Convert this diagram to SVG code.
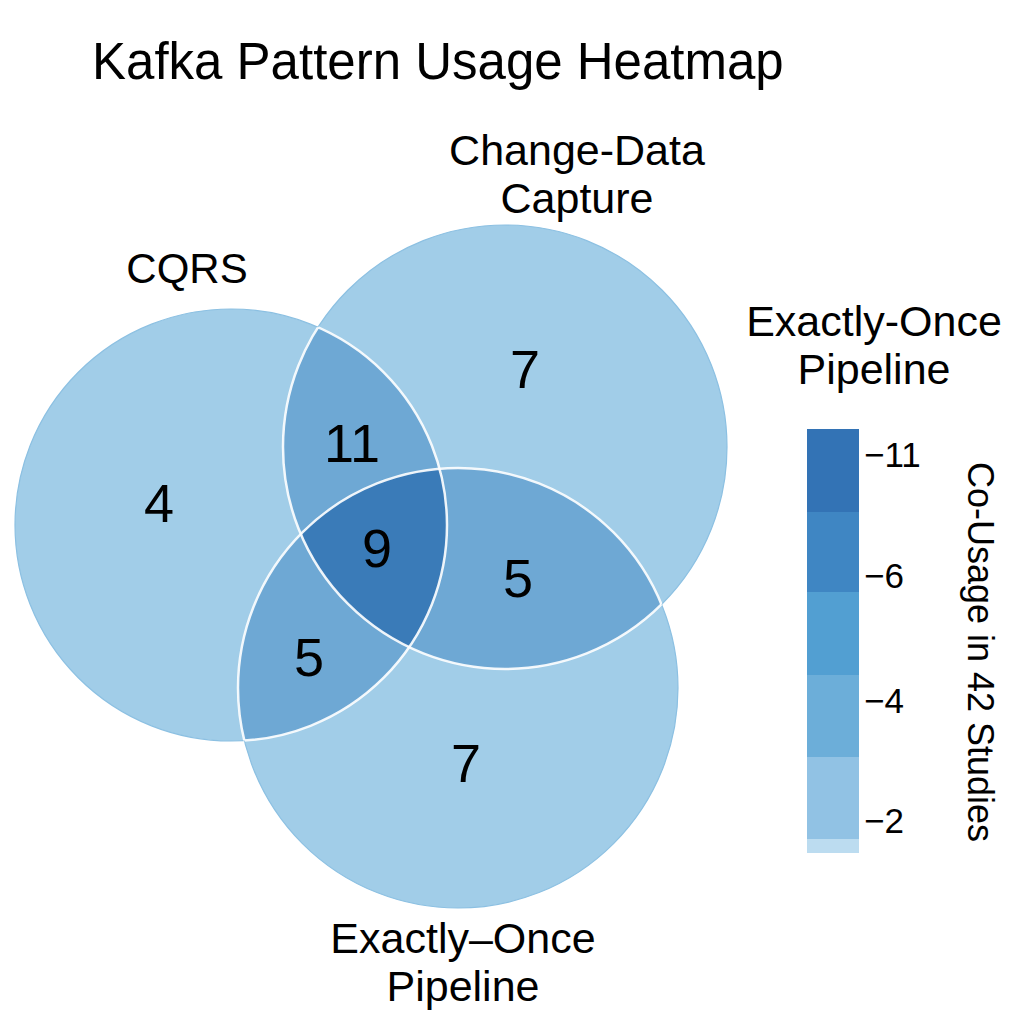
<svg xmlns="http://www.w3.org/2000/svg" width="1024" height="1024" viewBox="0 0 1024 1024">
<style>
text{font-family:"Liberation Sans",Arial,sans-serif;fill:#000}
.t{font-size:51px}
.lab{font-size:43px;text-anchor:middle}
.num{font-size:54px;text-anchor:middle}
.tick{font-size:35px}
.single{fill:#a1cde8}
.edge{fill:none;stroke:#8cc0e2;stroke-width:1.2}
.lens{fill:#6ea8d4}
.triple{fill:#3a7bb8}
.wl{fill:none;stroke:#fff;stroke-width:2.5;stroke-opacity:0.9}
</style>
<defs>
<clipPath id="cA"><circle cx="231" cy="525" r="216"/></clipPath>
<clipPath id="cB"><circle cx="505" cy="447" r="222"/></clipPath>
<clipPath id="cC"><circle cx="458" cy="688" r="220"/></clipPath>
<clipPath id="cBC"><circle cx="505" cy="447" r="222"/><circle cx="458" cy="688" r="220"/></clipPath>
<clipPath id="cAC"><circle cx="231" cy="525" r="216"/><circle cx="458" cy="688" r="220"/></clipPath>
<clipPath id="cAB"><circle cx="231" cy="525" r="216"/><circle cx="505" cy="447" r="222"/></clipPath>
</defs>
<rect width="1024" height="1024" fill="#fff"/>
<text class="t" x="92" y="79">Kafka Pattern Usage Heatmap</text>
<g id="set-cqrs">
<circle class="single" cx="231" cy="525" r="216"/>
<circle class="edge" cx="231" cy="525" r="216"/>
</g>
<g id="set-cdc">
<circle class="single" cx="505" cy="447" r="222"/>
<circle class="edge" cx="505" cy="447" r="222"/>
</g>
<g id="set-eo">
<circle class="single" cx="458" cy="688" r="220"/>
<circle class="edge" cx="458" cy="688" r="220"/>
</g>
<g id="overlaps">
<circle class="lens" cx="505" cy="447" r="222" clip-path="url(#cA)"/>
<circle class="lens" cx="458" cy="688" r="220" clip-path="url(#cA)"/>
<circle class="lens" cx="458" cy="688" r="220" clip-path="url(#cB)"/>
<g clip-path="url(#cA)"><circle class="triple" cx="458" cy="688" r="220" clip-path="url(#cB)"/></g>
</g>
<g id="outlines">
<circle class="wl" cx="231" cy="525" r="216" clip-path="url(#cBC)"/>
<circle class="wl" cx="505" cy="447" r="222" clip-path="url(#cAC)"/>
<circle class="wl" cx="458" cy="688" r="220" clip-path="url(#cAB)"/>
</g>
<g id="counts">
<text class="num" x="159" y="522">4</text>
<text class="num" x="525" y="388">7</text>
<text class="num" x="352" y="462">11</text>
<text class="num" x="377" y="567">9</text>
<text class="num" x="518" y="597">5</text>
<text class="num" x="309" y="676">5</text>
<text class="num" x="466" y="782">7</text>
</g>
<g id="labels">
<text class="lab" x="187" y="283" style="font-size:42px">CQRS</text>
<text class="lab" x="577" y="165">Change-Data<tspan x="577" y="213">Capture</tspan></text>
<text class="lab" x="874" y="336">Exactly-Once<tspan x="874" y="384">Pipeline</tspan></text>
<text class="lab" x="463" y="953">Exactly–Once<tspan x="463" y="1001">Pipeline</tspan></text>
</g>
<g id="colorbar">
<rect x="807" y="429" width="52" height="83" fill="#3373b5"/>
<rect x="807" y="512" width="52" height="80" fill="#3f86c3"/>
<rect x="807" y="592" width="52" height="83" fill="#529fd2"/>
<rect x="807" y="675" width="52" height="82" fill="#6caed9"/>
<rect x="807" y="757" width="52" height="82" fill="#91c2e4"/>
<rect x="807" y="839" width="52" height="14" fill="#bcdcf0"/>
<text class="tick" x="864" y="467">−11</text>
<text class="tick" x="864" y="588">−6</text>
<text class="tick" x="864" y="713">−4</text>
<text class="tick" x="864" y="833">−2</text>
<text transform="translate(968,652) rotate(90)" style="font-size:36px;text-anchor:middle">Co-Usage in 42 Studies</text>
</g>
</svg>
